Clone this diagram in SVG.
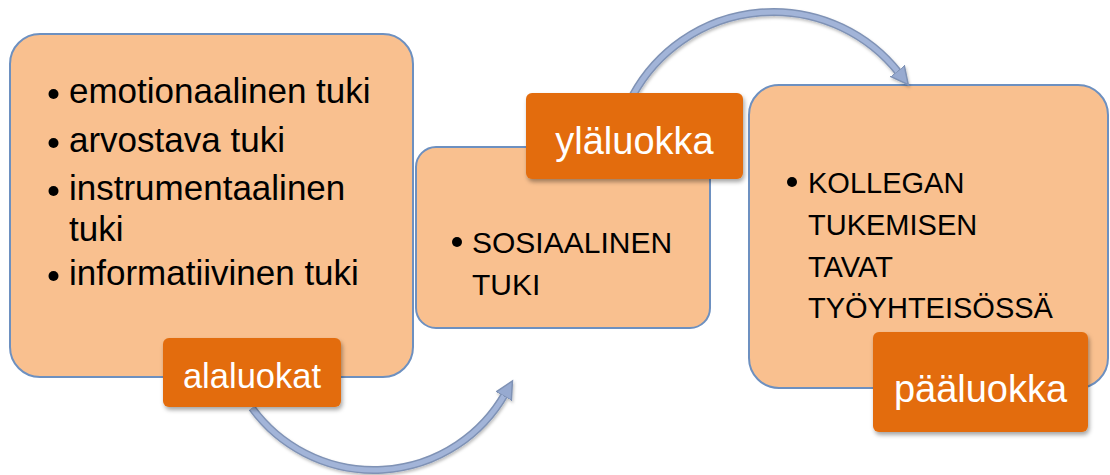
<svg xmlns="http://www.w3.org/2000/svg" width="1110" height="475" viewBox="0 0 1110 475">
<defs>
<style>
.box{fill:#f9c08f;stroke:#6d90c0;stroke-width:2}
.lbl{fill:#e36c0a}
.lt{fill:#ffffff;font-family:"Liberation Sans",Arial,sans-serif;text-anchor:middle}
.tx{fill:#000000;font-family:"Liberation Sans",Arial,sans-serif}
.bul{fill:#000000}
.arcO{fill:none;stroke:#7f92b5;stroke-width:8}
.arcI{fill:none;stroke:#a2b4d8;stroke-width:5}
</style>
<filter id="sh" x="-20%" y="-20%" width="140%" height="150%">
<feDropShadow dx="1.5" dy="3" stdDeviation="2" flood-color="#000" flood-opacity="0.35"/>
</filter>
<filter id="ash" x="-20%" y="-20%" width="140%" height="140%">
<feDropShadow dx="1" dy="2" stdDeviation="1.5" flood-color="#000" flood-opacity="0.25"/>
</filter>
<marker id="ah" markerUnits="userSpaceOnUse" markerWidth="20" markerHeight="20" refX="2" refY="8" orient="auto" viewBox="0 0 16 16">
<polygon points="0,1 14,8 0,15" fill="#97aad0" stroke="#7f92b5" stroke-width="1.2"/>
</marker>
</defs>

<g id="node-alaluokat-box">
<rect class="box" x="10" y="34" width="403" height="343" rx="30" ry="30"/>
<circle class="bul" cx="53.5" cy="94" r="5"/>
<circle class="bul" cx="53.5" cy="143" r="5"/>
<circle class="bul" cx="53.5" cy="191" r="5"/>
<circle class="bul" cx="53.5" cy="276" r="5"/>
<text class="tx" font-size="35" x="69" y="103">emotionaalinen tuki</text>
<text class="tx" font-size="35" x="69" y="152">arvostava tuki</text>
<text class="tx" font-size="35" x="69" y="200">instrumentaalinen</text>
<text class="tx" font-size="35" x="69" y="241">tuki</text>
<text class="tx" font-size="35" x="69" y="285">informatiivinen tuki</text>
</g>

<g id="node-ylaluokka-box">
<rect class="box" x="416" y="147" width="294" height="181" rx="20" ry="20"/>
<circle class="bul" cx="457" cy="242" r="5"/>
<text class="tx" font-size="30" x="472" y="253">SOSIAALINEN</text>
<text class="tx" font-size="30" x="472" y="295">TUKI</text>
</g>

<g id="node-paaluokka-box">
<rect class="box" x="749" y="85" width="359" height="303" rx="30" ry="30"/>
<circle class="bul" cx="792" cy="182" r="5"/>
<text class="tx" font-size="29" x="808" y="193">KOLLEGAN</text>
<text class="tx" font-size="29" x="808" y="235">TUKEMISEN</text>
<text class="tx" font-size="29" x="808" y="277">TAVAT</text>
<text class="tx" font-size="29" x="808" y="318">TYÖYHTEISÖSSÄ</text>
</g>

<g id="connectors" filter="url(#ash)">
<path class="arcO" d="M252,408 A151,151 0 0 0 505,394"/>
<path class="arcI" d="M252,408 A151,151 0 0 0 505,394" marker-end="url(#ah)"/>
<path class="arcO" d="M633,95 A160,160 0 0 1 899,73"/>
<path class="arcI" d="M633,95 A160,160 0 0 1 899,73" marker-end="url(#ah)"/>
</g>

<g id="label-alaluokat">
<rect class="lbl" filter="url(#sh)" x="163" y="338" width="178" height="69" rx="6" ry="6"/>
<text class="lt" font-size="34.5" x="252" y="388">alaluokat</text>
</g>

<g id="label-ylaluokka">
<rect class="lbl" filter="url(#sh)" x="526" y="93" width="217" height="86" rx="6" ry="6"/>
<text class="lt" font-size="38" x="634.5" y="154">yläluokka</text>
</g>

<g id="label-paaluokka">
<rect class="lbl" filter="url(#sh)" x="873" y="332" width="215" height="100" rx="6" ry="6"/>
<text class="lt" font-size="38" x="980.5" y="402">pääluokka</text>
</g>
</svg>
